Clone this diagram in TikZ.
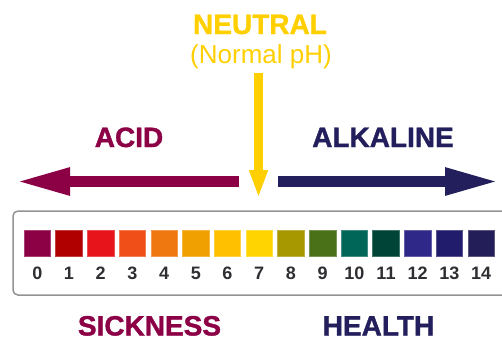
\documentclass[tikz,border=0pt]{standalone}
\usepackage{fontspec}
\setmainfont{Liberation Sans}
\newfontfamily\heavyfont[FakeBold=1.2]{Liberation Sans Bold}
\usepackage{tikz}
\usetikzlibrary{arrows.meta}
\definecolor{acidred}{HTML}{8C0046}
\definecolor{alkblue}{HTML}{231F5C}
\definecolor{neutyellow}{HTML}{FFCF00}
\definecolor{digitgray}{HTML}{2E2E33}
\definecolor{ph0}{HTML}{8C0046}
\definecolor{ph1}{HTML}{B00000}
\definecolor{ph2}{HTML}{E8141C}
\definecolor{ph3}{HTML}{F05018}
\definecolor{ph4}{HTML}{F07810}
\definecolor{ph5}{HTML}{F0A000}
\definecolor{ph6}{HTML}{FFC000}
\definecolor{ph7}{HTML}{FFD400}
\definecolor{ph8}{HTML}{A89800}
\definecolor{ph9}{HTML}{4A7018}
\definecolor{ph10}{HTML}{006658}
\definecolor{ph11}{HTML}{004438}
\definecolor{ph12}{HTML}{302888}
\definecolor{ph13}{HTML}{221C6C}
\definecolor{ph14}{HTML}{241E58}
\tikzset{
  bigword/.style={text=#1, inner sep=0pt, anchor=base, text depth=0pt,
                  font=\fontsize{28}{30}\selectfont\heavyfont},
  swatch/.style={rectangle, fill=#1, draw=#1!75!white, line width=0.6pt, inner sep=0pt,
                 minimum width=26.5pt, minimum height=26pt},
  phnum/.style={text=digitgray, inner sep=0pt, font=\fontsize{18}{20}\selectfont\bfseries},
  fatarr/.style={draw=#1, line width=11pt, -{Triangle[length=55pt, width=25pt]}},
}

\begin{document}
\begin{tikzpicture}[x=1pt, y=-1pt]
\useasboundingbox (0,0) rectangle (502,341);
% heading and neutral arrow
\node[bigword=neutyellow] (neutral) at (260,34) {NEUTRAL};
\node[text=neutyellow, inner sep=0pt, font=\fontsize{26}{28}\selectfont] (normal) at (261,57) {(Normal pH)};
\coordinate (ntop) at (258.5,73);
\coordinate (ntip) at (258.5,198);
\draw[draw=neutyellow, line width=8.5pt, -{Triangle[length=28pt, width=17pt]}] (ntop) -- (ntip);
% acid / alkaline
\node[bigword=acidred] (acid) at (129,147) {ACID};
\node[bigword=alkblue] (alkaline) at (383,147) {ALKALINE};
\coordinate (acidtail) at (239,181.5);
\coordinate (acidtip) at (15,181.5);
\coordinate (alktail) at (278,181.5);
\coordinate (alktip) at (500,181.5);
\draw[fatarr=acidred] (acidtail) -- (acidtip);
\draw[fatarr=alkblue] (alktail) -- (alktip);
% scale
\draw[draw=gray!85, line width=1.5pt, rounded corners=5pt] (13,211) rectangle (512,295);
\foreach \k in {0,...,14} {
  \node[swatch=ph\k] (sw\k) at (37.3+31.7*\k,243.7) {};
  \node[phnum] (num\k) at (37.3+31.7*\k,273) {\k};
}
% bottom words
\node[bigword=acidred] (sick) at (149.5,335.5) {SICKNESS};
\node[bigword=alkblue] (health) at (378.5,335.5) {HEALTH};
\end{tikzpicture}
\end{document}
